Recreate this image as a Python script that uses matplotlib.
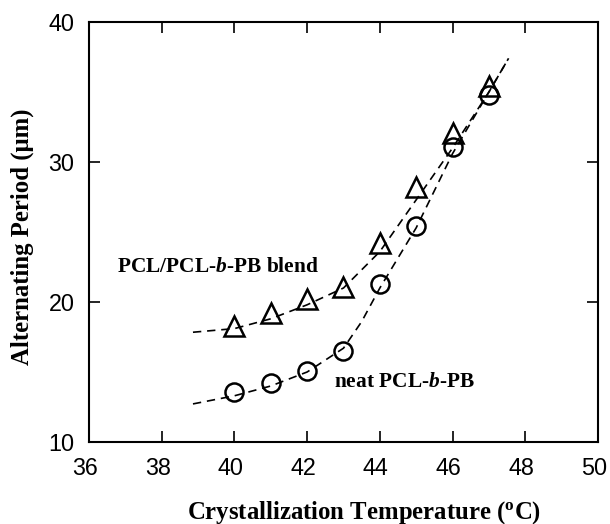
import matplotlib
matplotlib.use("Agg")
import matplotlib.pyplot as plt
import matplotlib.transforms as mtransforms

plt.rcParams['mathtext.fontset'] = 'custom'
plt.rcParams['mathtext.rm'] = 'Liberation Serif:bold'
plt.rcParams['mathtext.it'] = 'Liberation Serif:bold:italic'

# measured alternating periods
temp = [40, 41, 42, 43, 44, 45, 46, 47]
blend = [18.3, 19.2, 20.2, 21.1, 24.2, 28.2, 32.1, 35.4]
neat = [13.6, 14.2, 15.1, 16.5, 21.3, 25.4, 31.1, 34.8]

# guide-to-the-eye curves
blend_fit_x = [38.86, 40, 41, 42, 43, 44, 45, 46, 47, 47.54]
blend_fit_y = [17.84, 18.1, 18.8, 19.8, 21.0, 23.6, 27.3, 31.0, 35.0, 37.4]
neat_fit_x = [38.86, 40, 41, 42, 43, 43.5, 44, 45, 46, 47, 47.54]
neat_fit_y = [12.72, 13.3, 14.0, 15.0, 16.7, 18.6, 21.0, 25.3, 30.6, 35.0, 37.4]

fig = plt.figure(figsize=(6.10, 5.24), dpi=100)
ax = fig.add_axes([0.1459, 0.1565, 0.8344, 0.8015])

dash = dict(color='black', lw=1.2, linestyle=(0, (5, 3.5)))
ax.plot(blend_fit_x, blend_fit_y, **dash)
ax.plot(neat_fit_x, neat_fit_y, **dash)

ax.plot(temp, blend, linestyle='none', marker='^', ms=14, mfc='none',
        mec='black', mew=1.8)
ax.plot(temp, neat, linestyle='none', marker='o', ms=13, mfc='none',
        mec='black', mew=1.8)

ax.text(36.77, 22.5, r'PCL/PCL-$b$-PB blend', fontsize=15.4,
        family='Liberation Serif', weight='bold', va='center', ha='left')
ax.text(42.73, 14.3, r'neat PCL-$b$-PB', fontsize=15.4,
        family='Liberation Serif', weight='bold', va='center', ha='left')

ax.set_xlim(36, 50)
ax.set_ylim(10, 40)
ax.set_xticks(range(36, 51, 2))
ax.set_yticks([10, 20, 30, 40])
ax.tick_params(direction='in', length=8, width=1.2, top=True, right=True,
               labelsize=16.8)
ax.tick_params(axis='x', pad=11)
ax.tick_params(axis='y', pad=10.5)
shift = mtransforms.ScaledTranslation(-0.04, 0, fig.dpi_scale_trans)
for lab in ax.get_xticklabels():
    lab.set_family('Liberation Sans')
    lab.set_transform(lab.get_transform() + shift)
for lab in ax.get_yticklabels():
    lab.set_family('Liberation Sans')
for s in ax.spines.values():
    s.set_linewidth(1.5)

ax.set_xlabel(r'Crystallization Temperature ($^{\rm o}$C)', fontsize=17.8,
              family='Liberation Serif', weight='bold')
ax.set_ylabel('Alternating Period (μm)', fontsize=17.8,
              family='Liberation Serif', weight='bold')
ax.xaxis.set_label_coords(0.54, -0.135)
ax.yaxis.set_label_coords(-0.108, 0.489)

fig.savefig('out.png', dpi=100)
